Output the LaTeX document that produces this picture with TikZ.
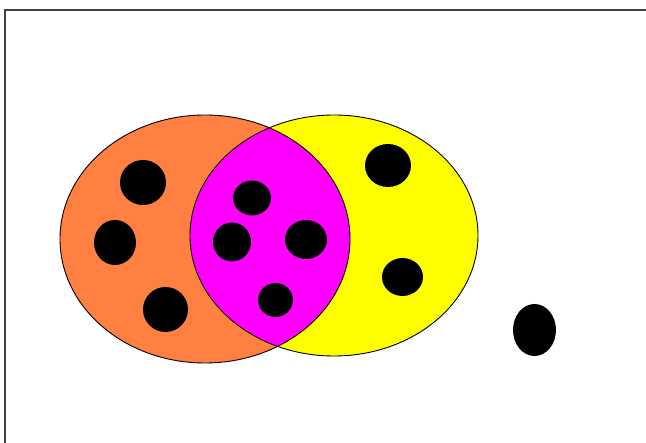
\documentclass[tikz,border=0pt]{standalone}
\usepackage{xcolor}
\usepackage{tikz}
\definecolor{setorange}{RGB}{255,128,64}
\definecolor{setmagenta}{RGB}{255,0,255}
\definecolor{setyellow}{RGB}{255,255,0}

\begin{document}
\begin{tikzpicture}[x=1pt, y=-1pt,
    setline/.style={line width=0.9pt, black},
    elem/.style={fill=black}]
  \useasboundingbox (0,0) rectangle (646,443);
  \clip (0,0) rectangle (646,443);
  \draw[line width=2pt, black!75] (5,10) rectangle (660,460);
  \coordinate (A) at (205,239);
  \coordinate (B) at (334,235.5);
  \fill[setorange] (A) ellipse [x radius=145, y radius=124];
  \fill[setyellow] (B) ellipse [x radius=144, y radius=120.5];
  \begin{scope}
    \clip (A) ellipse [x radius=145, y radius=124];
    \fill[setmagenta] (B) ellipse [x radius=144, y radius=120.5];
  \end{scope}
  \draw[setline] (A) ellipse [x radius=145, y radius=124];
  \draw[setline] (B) ellipse [x radius=144, y radius=120.5];
  \foreach \cx/\cy/\rx/\ry in {143/182.5/23/22.5, 115/242.5/21/22.5, 165.5/309.5/22.5/22.5,
      252/198/19/17.5, 232/242/19/19.5, 306/239.5/21/19.5, 275.5/300/17.5/17,
      388/165.5/23/21.5, 402.5/277/20.5/19, 534.5/330/21.5/26}
    \fill[elem] (\cx,\cy) ellipse [x radius=\rx, y radius=\ry];
\end{tikzpicture}
\end{document}
